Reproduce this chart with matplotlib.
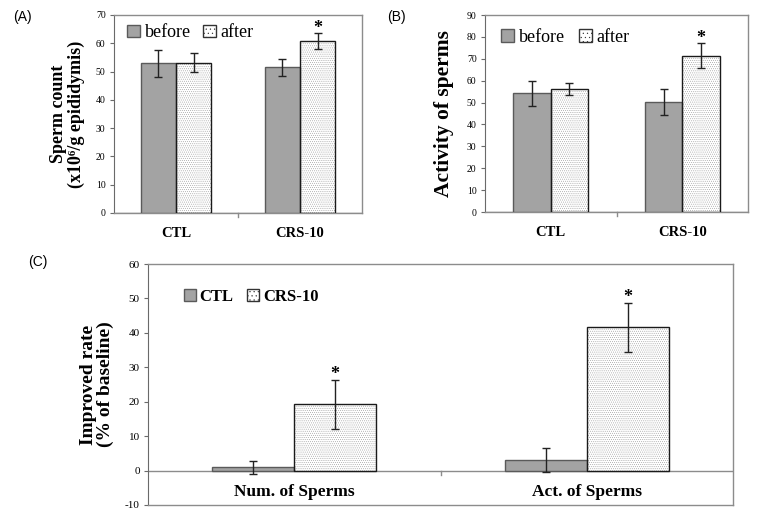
import matplotlib
matplotlib.use("Agg")
import matplotlib.pyplot as plt
import numpy as np
from matplotlib.patches import Patch

# ---------------- data ----------------
groups_ab = ["CTL", "CRS-10"]
series_ab = ["before", "after"]

count_before = [52.9, 51.5]
count_before_err = [4.7, 2.9]
count_after = [53.2, 60.8]
count_after_err = [3.3, 2.7]

activity_before = [54.2, 50.1]
activity_before_err = [5.6, 5.9]
activity_after = [56.3, 71.4]
activity_after_err = [2.7, 5.7]

groups_c = ["Num. of Sperms", "Act. of Sperms"]
series_c = ["CTL", "CRS-10"]
improve_ctl = [1.0, 3.0]
improve_ctl_err = [1.9, 3.5]
improve_crs = [19.2, 41.6]
improve_crs_err = [7.1, 7.1]

star_a = [False, True]
star_b = [False, True]
star_c = [True, True]

# ---------------- style ----------------
SERIF = "Liberation Serif"
SANS = "Liberation Sans"
GRAY = "#a3a3a3"
GRAY_EDGE = "#5a5a5a"
FRAME = "#8c8c8c"
HATCH = "........"
plt.rcParams["hatch.linewidth"] = 0.35
plt.rcParams["font.family"] = [SERIF, "DejaVu Serif"]

fig = plt.figure(figsize=(7.58, 5.17), dpi=100)
W, H = 758, 517


def ax_at(l, t, r, b):
    return fig.add_axes([l / W, 1 - b / H, (r - l) / W, (b - t) / H])


def dotted_bar(ax, x, h, w):
    ax.bar(x, h, w, color="white", edgecolor="#9a9a9a", hatch=HATCH,
           linewidth=0, zorder=2)
    ax.bar(x, h, w, color="none", edgecolor="#1a1a1a", linewidth=1.0, zorder=3)


def gray_bar(ax, x, h, w):
    ax.bar(x, h, w, color=GRAY, edgecolor=GRAY_EDGE, linewidth=1.0, zorder=3)


def errs(ax, x, h, e):
    ax.errorbar(x, h, yerr=e, fmt="none", ecolor="#222222", elinewidth=1.0,
                capsize=3, capthick=1.0, zorder=4)


def stars(ax, xs, tops, flags):
    for xi, t, f in zip(xs, tops, flags):
        if f:
            ax.annotate("*", (xi, t), xytext=(0, -2.5), textcoords="offset points",
                        ha="center", va="bottom", fontsize=13,
                        fontweight="bold")


def frame(ax, ymin, ymax, ticks, tick_fs):
    for s in ["top", "right", "bottom"]:
        ax.spines[s].set_color(FRAME)
        ax.spines[s].set_linewidth(1.0)
    ax.spines["left"].set_color("#6a6a6a")
    ax.set_ylim(ymin, ymax)
    ax.set_xlim(-0.5, 1.5)
    ax.set_yticks(ticks)
    ax.set_yticklabels([str(t) for t in ticks], fontsize=tick_fs,
                       family=[SERIF])
    ax.tick_params(axis="y", length=3, width=0.8, color="#6a6a6a", pad=3,
                   direction="out")
    ax.set_xticks([])
    ax.axhline(0, color=FRAME, linewidth=1.0, zorder=1)
    ax.plot([0.5, 0.5], [0, -(ymax - ymin) * 0.02], color=FRAME,
            linewidth=1.0, clip_on=False)


def legend(ax, labels, anchor, fs, weight="normal", colsp=0.7):
    ax.legend(handles=[Patch(facecolor=GRAY, edgecolor=GRAY_EDGE),
                       Patch(facecolor="white", edgecolor="#333333",
                             hatch="....")],
              labels=labels, loc="upper left", bbox_to_anchor=anchor,
              ncol=2, frameon=False, handlelength=0.7, handleheight=0.7,
              handletextpad=0.25, columnspacing=colsp, borderaxespad=0.0,
              prop={"weight": weight, "size": fs, "family": SERIF})


bw = 0.285
x = np.arange(2)

# ---------------- panel A ----------------
axA = ax_at(114, 15, 362, 213)
frame(axA, 0, 70, list(range(0, 71, 10)), 7)
gray_bar(axA, x - bw / 2, count_before, bw)
dotted_bar(axA, x + bw / 2, count_after, bw)
errs(axA, x - bw / 2, count_before, count_before_err)
errs(axA, x + bw / 2, count_after, count_after_err)
stars(axA, x + bw / 2, np.add(count_after, count_after_err), star_a)
for i, g in enumerate(groups_ab):
    axA.text(x[i], -5, g, ha="center", va="top", fontsize=10.5,
             fontweight="bold")
axA.set_ylabel("Sperm count\n(x10\u2076/g epididymis)", fontsize=13,
               fontweight="bold", labelpad=8, linespacing=1.0)
legend(axA, series_ab, (0.025, 0.99), 13, colsp=0.7)
fig.text(13 / W, 1 - 17 / H, "(A)", family=[SANS], fontsize=10,
         va="center", ha="left")

# ---------------- panel B ----------------
axB = ax_at(485, 15, 748, 212)
frame(axB, 0, 90, list(range(0, 91, 10)), 7)
gray_bar(axB, x - bw / 2, activity_before, bw)
dotted_bar(axB, x + bw / 2, activity_after, bw)
errs(axB, x - bw / 2, activity_before, activity_before_err)
errs(axB, x + bw / 2, activity_after, activity_after_err)
stars(axB, x + bw / 2, np.add(activity_after, activity_after_err), star_b)
for i, g in enumerate(groups_ab):
    axB.text(x[i], -6.5, g, ha="center", va="top", fontsize=10.5,
             fontweight="bold")
axB.set_ylabel("Activity of sperms", fontsize=15.5, fontweight="bold",
               labelpad=9)
legend(axB, series_ab, (0.035, 0.965), 13, colsp=0.8)
fig.text(387 / W, 1 - 17 / H, "(B)", family=[SANS], fontsize=10,
         va="center", ha="left")

# ---------------- panel C ----------------
bwc = 0.28
axC = ax_at(148, 264, 733, 505)
frame(axC, -10, 60, list(range(-10, 61, 10)), 8)
gray_bar(axC, x - bwc / 2, improve_ctl, bwc)
dotted_bar(axC, x + bwc / 2, improve_crs, bwc)
errs(axC, x - bwc / 2, improve_ctl, improve_ctl_err)
errs(axC, x + bwc / 2, improve_crs, improve_crs_err)
stars(axC, x + bwc / 2, np.add(improve_crs, improve_crs_err), star_c)
for i, g in enumerate(groups_c):
    axC.text(x[i], -3.8, g, ha="center", va="top", fontsize=12.5,
             fontweight="bold")
axC.set_ylabel("Improved rate\n(% of baseline)", fontsize=14,
               fontweight="bold", labelpad=8, linespacing=0.95)
legend(axC, series_c, (0.05, 0.925), 12, weight="bold", colsp=0.8)
fig.text(28 / W, 1 - 262 / H, "(C)", family=[SANS], fontsize=10,
         va="center", ha="left")

fig.savefig("out.png", dpi=100)
